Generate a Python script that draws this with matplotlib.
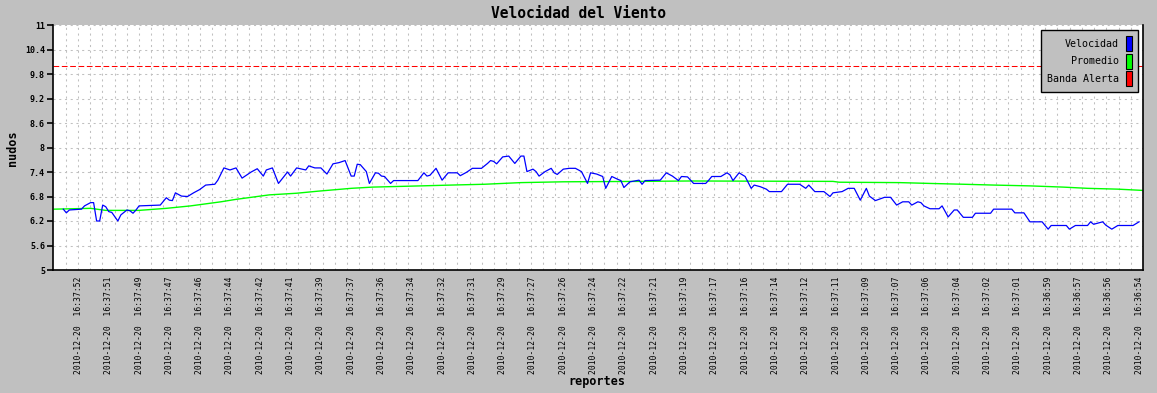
import matplotlib
matplotlib.use("Agg")
import matplotlib.pyplot as plt
from matplotlib.patches import Patch

# --- datos (indice de reporte, nudos) ---
vel_idx = [0, 1, 2, 6, 7, 9, 10, 11, 12, 13, 14, 15, 16, 18, 19, 21, 22, 23, 24, 25,
           32, 34, 35, 36, 37, 39, 41, 43, 45, 47, 50, 51, 52, 53, 55, 57, 59, 62, 64, 66,
           67, 69, 71, 74, 75, 77, 80, 81, 83, 85, 87, 89, 91, 93, 95, 96, 97, 98, 100, 101,
           103, 104, 105, 106, 108, 109, 117, 119, 120, 121, 123, 125, 127, 130, 131, 133, 135, 138, 140, 141,
           142, 143, 145, 147, 149, 151, 152, 153, 155, 156, 157, 159, 161, 162, 163, 165, 167, 169, 171, 173,
           174, 176, 178, 179, 181, 183, 184, 185, 187, 190, 191, 192, 197, 199, 201, 203, 204, 206, 207, 208,
           212, 213, 214, 217, 219, 220, 221, 223, 225, 227, 228, 230, 232, 233, 237, 239, 243, 245, 246, 248,
           251, 253, 254, 257, 259, 261, 263, 265, 266, 268, 271, 273, 275, 277, 279, 280, 282, 283, 284, 286,
           289, 290, 292, 294, 295, 297, 300, 301, 306, 307, 313, 314, 317, 319, 323, 325, 326, 331, 332, 334,
           338, 339, 340, 343, 344, 346, 348, 353, 355]
vel_val = [6.49, 6.40, 6.47, 6.49, 6.57, 6.65, 6.65, 6.20, 6.20, 6.59, 6.55, 6.43, 6.41, 6.20, 6.35, 6.47, 6.45, 6.39, 6.47, 6.57,
           6.59, 6.77, 6.71, 6.70, 6.89, 6.81, 6.80, 6.89, 6.97, 7.08, 7.10, 7.20, 7.35, 7.50, 7.45, 7.50, 7.25, 7.40, 7.48, 7.30,
           7.45, 7.50, 7.12, 7.40, 7.30, 7.50, 7.45, 7.55, 7.50, 7.50, 7.35, 7.60, 7.63, 7.68, 7.30, 7.30, 7.59, 7.58, 7.41, 7.12,
           7.38, 7.37, 7.30, 7.29, 7.12, 7.19, 7.19, 7.38, 7.30, 7.32, 7.49, 7.20, 7.38, 7.38, 7.31, 7.39, 7.49, 7.49, 7.61, 7.68,
           7.66, 7.60, 7.77, 7.79, 7.61, 7.79, 7.79, 7.41, 7.47, 7.41, 7.30, 7.41, 7.49, 7.38, 7.34, 7.47, 7.49, 7.49, 7.41, 7.12,
           7.38, 7.35, 7.29, 7.00, 7.29, 7.22, 7.19, 7.02, 7.16, 7.20, 7.10, 7.19, 7.20, 7.38, 7.30, 7.19, 7.29, 7.28, 7.20, 7.12,
           7.12, 7.20, 7.29, 7.29, 7.38, 7.33, 7.19, 7.38, 7.29, 7.00, 7.08, 7.04, 6.98, 6.92, 6.92, 7.10, 7.10, 7.00, 7.08, 6.92,
           6.92, 6.80, 6.89, 6.92, 7.00, 7.00, 6.71, 7.00, 6.81, 6.70, 6.78, 6.78, 6.59, 6.67, 6.67, 6.59, 6.67, 6.65, 6.57, 6.50,
           6.50, 6.57, 6.30, 6.47, 6.47, 6.29, 6.29, 6.39, 6.39, 6.49, 6.49, 6.40, 6.40, 6.18, 6.18, 6.00, 6.09, 6.09, 6.00, 6.09,
           6.09, 6.18, 6.12, 6.18, 6.10, 6.00, 6.09, 6.09, 6.18]

prom_idx = [-3, 9, 14, 25, 34, 42, 47, 52, 57, 68, 77, 84, 95, 102, 118, 128, 139, 145, 151, 165,
            190, 207, 254, 256, 276, 286, 297, 307, 319, 330, 338, 348, 356]
prom_val = [6.49, 6.51, 6.46, 6.46, 6.51, 6.57, 6.62, 6.67, 6.73, 6.84, 6.88, 6.93, 7.00, 7.03, 7.06, 7.08, 7.10, 7.12, 7.14, 7.16,
            7.17, 7.18, 7.17, 7.15, 7.14, 7.12, 7.10, 7.08, 7.06, 7.03, 7.00, 6.98, 6.95]

alerta = 10.0

fecha = "2010-12-20"
horas = ["16:37:52", "16:37:51", "16:37:49", "16:37:47", "16:37:46", "16:37:44", "16:37:42",
         "16:37:41", "16:37:39", "16:37:37", "16:37:36", "16:37:34", "16:37:32", "16:37:31",
         "16:37:29", "16:37:27", "16:37:26", "16:37:24", "16:37:22", "16:37:21", "16:37:19",
         "16:37:17", "16:37:16", "16:37:14", "16:37:12", "16:37:11", "16:37:09", "16:37:07",
         "16:37:06", "16:37:04", "16:37:02", "16:37:01", "16:36:59", "16:36:57", "16:36:56",
         "16:36:54"]
label_idx = list(range(5, 356, 10))

y_ticks = [5, 5.6, 6.2, 6.8, 7.4, 8, 8.6, 9.2, 9.8, 10.4, 11]

# --- estilo ---
MONO = "DejaVu Sans Mono"
GRIS = "#c0c0c0"
W, H = 1157, 393

fig = plt.figure(figsize=(W / 100, H / 100), dpi=100, facecolor=GRIS)
x0, x1, y0, y1 = 53.3, 1143, 25, 270
ax = fig.add_axes([x0 / W, 1 - y1 / H, (x1 - x0) / W, (y1 - y0) / H])
ax.set_facecolor("white")

xmin, xmax = -3.3, 356.3
ax.set_xlim(xmin, xmax)
ax.set_ylim(5, 11)

# rejilla punteada
paso = (xmax - xmin) / 89
ax.set_xticks([xmin + paso * k for k in range(1, 89)], minor=True)
ax.grid(which="minor", axis="x", color=GRIS, linestyle=(0, (2, 3.5)), linewidth=0.75)
ax.grid(which="major", axis="y", color=GRIS, linestyle=(0, (2, 3.5)), linewidth=0.75)
ax.set_axisbelow(True)

ax.axhline(alerta, color="#ff0000", linewidth=0.75, linestyle=(0, (5.5, 2.5)))
ax.plot(prom_idx, prom_val, color="#00ff00", linewidth=1.0)
ax.plot(vel_idx, vel_val, color="#0000ff", linewidth=0.9)

ax.set_yticks(y_ticks)
ax.set_yticklabels([f"{v:g}" for v in y_ticks], family=MONO, fontweight="bold", fontsize=6)
ax.tick_params(axis="y", length=4, width=1.2, pad=2, direction="out")

ax.set_xticks(label_idx)
ax.set_xticklabels([f"{fecha}  {h}" for h in horas], rotation=90, family=MONO, fontsize=5.8)
ax.tick_params(axis="x", which="both", length=0, pad=5)

for s in ("left", "bottom", "right"):
    ax.spines[s].set_linewidth(1.2)
    ax.spines[s].set_color("black")
ax.spines["top"].set_visible(False)

fig.text(0.5, 1 - 13 / H, "Velocidad del Viento", ha="center", va="center",
         family=MONO, fontweight="bold", fontsize=10.5)
fig.text(12.7 / W, 1 - 148 / H, "nudos", ha="center", va="center", rotation=90,
         family=MONO, fontweight="bold", fontsize=8.5)
fig.text(597 / W, 1 - 382 / H, "reportes", ha="center", va="center",
         family=MONO, fontweight="bold", fontsize=8.5)

handles = [Patch(facecolor="#0000ff", edgecolor="black", linewidth=0.8, label="Velocidad"),
           Patch(facecolor="#00ff00", edgecolor="black", linewidth=0.8, label="Promedio"),
           Patch(facecolor="#ff0000", edgecolor="black", linewidth=0.8, label="Banda Alerta")]
leg = ax.legend(handles=handles, loc="upper right", markerfirst=False,
                prop={"family": MONO, "size": 7.2}, handlelength=0.65, handleheight=1.95,
                handletextpad=0.65, labelspacing=0.25, borderpad=0.6, borderaxespad=0.5,
                fancybox=False, framealpha=1, facecolor=GRIS, edgecolor="black")
leg.get_frame().set_linewidth(1.0)

fig.savefig("out.png", dpi=100, facecolor=fig.get_facecolor())
